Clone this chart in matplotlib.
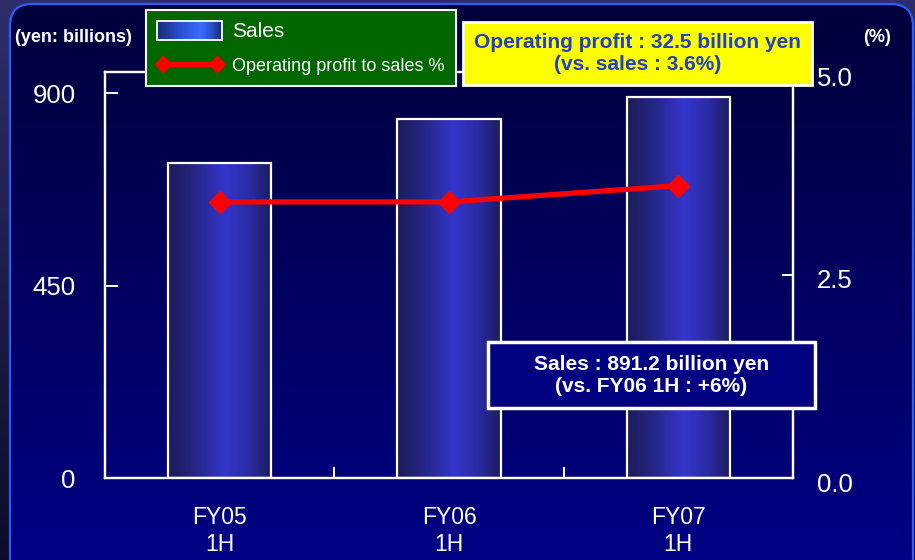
import numpy as np
import matplotlib
matplotlib.use('Agg')
import matplotlib.pyplot as plt
from matplotlib.patches import FancyBboxPatch, Rectangle, Patch
from matplotlib.lines import Line2D
from matplotlib.legend_handler import HandlerBase
from matplotlib.image import BboxImage
from matplotlib.transforms import Bbox, TransformedBbox, ScaledTranslation
from matplotlib.colors import LinearSegmentedColormap

# ---------------- data ----------------
categories = ["FY05\n1H", "FY06\n1H", "FY07\n1H"]
sales = [737, 840, 891.2]            # yen billions
op_margin = [3.4, 3.4, 3.6]          # %
left_ticks = [0, 450, 900]
right_ticks = [0.0, 2.5, 5.0]
right_tick_labels = ["0.0", "2.5", "5.0"]

plt.rcParams['font.family'] = ['Liberation Sans', 'DejaVu Sans']
TICKFONT = ['Liberation Sans', 'DejaVu Sans']

W, H = 915, 560
fig = plt.figure(figsize=(W / 100, H / 100), dpi=100)

# ---------------- background ----------------
bg = fig.add_axes([0, 0, 1, 1], zorder=-10)
bg.set_xlim(0, W)
bg.set_ylim(H, 0)
bg.axis('off')
t = np.linspace(0, 1, 256)[:, None]
outer = (1 - t)[..., None] * np.array([0.18, 0.18, 0.42]) + t[..., None] * np.array([0.05, 0.05, 0.16])
outer = np.repeat(outer, 2, axis=1)
bg.imshow(outer, extent=(0, W, H, 0), aspect='auto', interpolation='bilinear')
inner = (1 - t)[..., None] * np.array([0.0, 0.0, 0.23]) + t[..., None] * np.array([0.0, 0.0, 0.52])
inner = np.repeat(inner, 2, axis=1)
frame = FancyBboxPatch((10, 4), 903, 640, boxstyle="round,pad=0,rounding_size=22",
                       fc='none', ec='#2a5cff', lw=1.6, zorder=3)
bg.add_patch(frame)
im_in = bg.imshow(inner, extent=(0, W, H, 0), aspect='auto', interpolation='bilinear', zorder=2)
im_in.set_clip_path(frame)
bg.set_xlim(0, W)
bg.set_ylim(H, 0)

# ---------------- main axes ----------------
ax = fig.add_axes([105 / W, (H - 478) / H, 688 / W, 406 / H])
ax.set_facecolor('none')
x = np.arange(len(categories))
bar_w = 0.45
bars = ax.bar(x, sales, width=bar_w, facecolor='none', edgecolor='white', lw=1.6, zorder=3)
bar_cmap = LinearSegmentedColormap.from_list(
    'barg', [(0.0, '#1c1c5a'), (0.2, '#23237a'), (0.55, '#3535cc'), (0.8, '#2a2aa0'), (1.0, '#1c1c5a')])
for b in bars:
    im = ax.imshow(np.linspace(0, 1, 128)[None, :], cmap=bar_cmap, aspect='auto',
                   extent=(b.get_x(), b.get_x() + b.get_width(), 0, b.get_height()),
                   interpolation='bilinear', zorder=2)
    im.set_clip_path(b)
ax.set_xlim(-0.5, 2.5)
ax.set_ylim(0, 950)
ax.set_yticks(left_ticks, [str(v) for v in left_ticks])
ax.set_xticks(x, categories)
ax.set_xticks([0.5, 1.5], minor=True)
for s in ax.spines.values():
    s.set_color('white')
    s.set_linewidth(1.6)
ax.tick_params(axis='y', direction='in', length=9, width=1.4, color='white',
               labelcolor='white', pad=21, labelsize=18.5)
ax.tick_params(axis='x', which='major', length=0, labelcolor='white', pad=20, labelsize=16.5)
ax.tick_params(axis='x', which='minor', direction='in', length=8, width=1.4, color='white')
for lab in ax.get_yticklabels() + ax.get_xticklabels():
    lab.set_fontfamily(TICKFONT)
for lab in ax.get_xticklabels():
    lab.set_linespacing(1.25)

ax2 = ax.twinx()
ax2.set_ylim(0, 5.0)
ax2.plot(x, op_margin, color='#ff0000', lw=3.8, marker='D', ms=11, zorder=5)
ax2.set_yticks(right_ticks, right_tick_labels)
for s in ax2.spines.values():
    s.set_color('white')
    s.set_linewidth(1.6)
ax2.tick_params(axis='y', direction='in', length=8, width=1.4, color='white',
                labelcolor='white', pad=17, labelsize=18.5)
shift = ScaledTranslation(0, -4 / 100, fig.dpi_scale_trans)
for lab in ax2.get_yticklabels():
    lab.set_fontfamily(TICKFONT)
    lab.set_transform(lab.get_transform() + shift)

# ---------------- legend ----------------
leg_cmap = LinearSegmentedColormap.from_list(
    'legg', [(0.0, '#1a2a78'), (0.35, '#2850d0'), (0.68, '#3a6cff'), (0.85, '#2850c8'), (1.0, '#1a2a70')])


class GradHandler(HandlerBase):
    def create_artists(self, legend, orig_handle, xdescent, ydescent, width, height, fontsize, trans):
        bb = TransformedBbox(Bbox.from_bounds(-xdescent, -ydescent, width, height), trans)
        im = BboxImage(bb, cmap=leg_cmap, interpolation='bilinear')
        im.set_data(np.linspace(0, 1, 64)[None, :])
        rect = Rectangle((-xdescent, -ydescent), width, height, fc='none', ec='white', lw=1.3,
                         transform=trans)
        return [im, rect]


handles = [Patch(label='Sales'),
           Line2D([], [], color='#ff0000', lw=3.8, marker='D', ms=8, label='Operating profit to sales %')]
leg = fig.legend(handles=handles, handler_map={Patch: GradHandler()}, numpoints=2,
                 loc='upper left', bbox_to_anchor=(146 / W, 1 - 10 / H), bbox_transform=fig.transFigure,
                 facecolor='#006600', edgecolor='white', framealpha=1, fancybox=False,
                 fontsize=13, handlelength=3.6, handleheight=1.2, handletextpad=0.55,
                 labelspacing=0.85, borderpad=0.62, borderaxespad=0, labelcolor='white')
leg.get_frame().set_linewidth(1.5)
leg.get_texts()[0].set_fontsize(15)
leg.set_zorder(30)

# ---------------- overlay annotations ----------------
ov = fig.add_axes([0, 0, 1, 1], zorder=20)
ov.set_xlim(0, W)
ov.set_ylim(H, 0)
ov.axis('off')
ov.add_patch(Rectangle((463, 22), 349, 63, fc='#ffff00', ec='white', lw=2))
ov.text(637.5, 53.5, "Operating profit : 32.5 billion yen\n(vs. sales : 3.6%)", ha='center', va='center',
        color='#1f3fcf', fontsize=15, fontweight='bold', linespacing=1.2)
ov.add_patch(Rectangle((488, 342), 327, 66, fc='#000080', ec='white', lw=2.5))
ov.text(651.5, 376, "Sales : 891.2 billion yen\n(vs. FY06 1H : +6%)", ha='center', va='center',
        color='white', fontsize=15, fontweight='bold', linespacing=1.2)
ov.text(15, 37, "(yen: billions)", ha='left', va='center', color='white', fontsize=13, fontweight='bold')
ov.text(877, 37, "(%)", ha='center', va='center', color='white', fontsize=13, fontweight='bold')

fig.savefig('out.png', dpi=100, facecolor='#0a0a28')
